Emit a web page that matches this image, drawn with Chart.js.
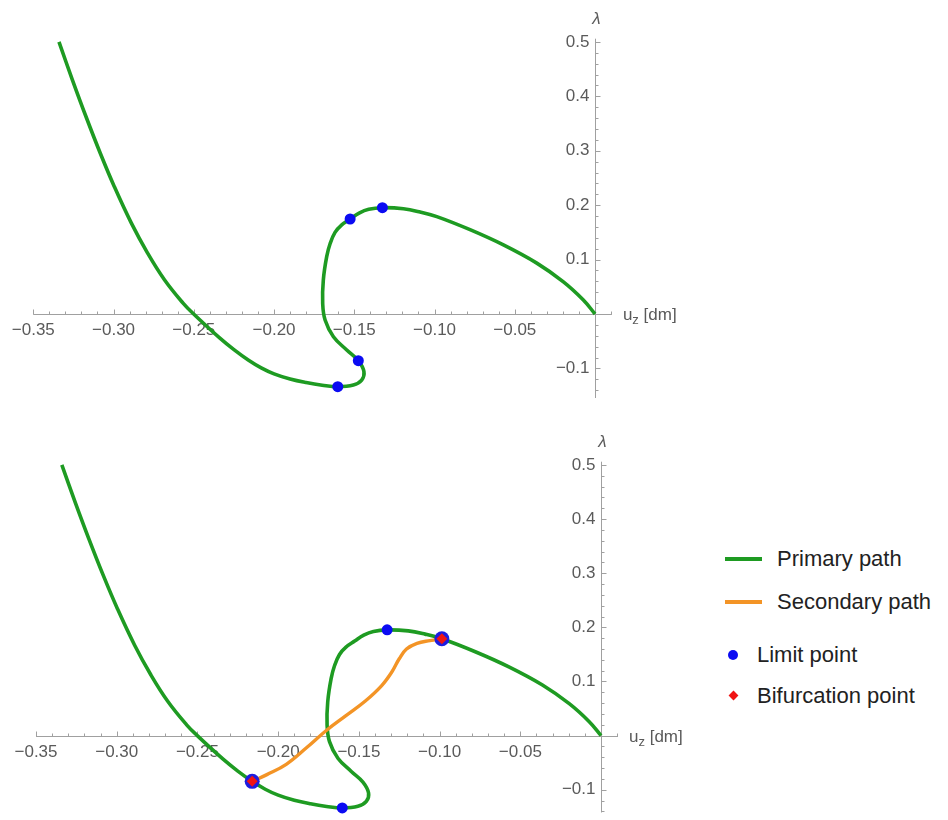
<!DOCTYPE html>
<html>
<head>
<meta charset="utf-8">
<script src="https://cdn.jsdelivr.net/npm/chart.js@4.4.1/dist/chart.umd.min.js"></script>
<style>
  body { margin: 0; background: #fff; width: 948px; height: 820px; position: relative; overflow: hidden;
         font-family: Arial, "Liberation Sans", sans-serif; }
  canvas { position: absolute; left: 0; }
  #graficoSuperior { top: 0; }
  #graficoInferior { top: 410px; }
  .item-legenda { position: absolute; font-size: 22px; color: #222; line-height: 22px; white-space: nowrap; transform: translateY(-50%); }
  .simbolo { position: absolute; }
</style>
</head>
<body>
<canvas id="graficoSuperior" width="700" height="410"></canvas>
<canvas id="graficoInferior" width="700" height="410"></canvas>
<div id="legenda"></div>

<script>
// Caminho primário (u_z, λ)
const caminhoPrimario = [
    [-0.3340, 0.500], [-0.3256, 0.430], [-0.3172, 0.363], [-0.3082, 0.295],
    [-0.2995, 0.234], [-0.2889, 0.167], [-0.2788, 0.112], [-0.2683, 0.063],
    [-0.2567, 0.020], [-0.2501, 0.000], [-0.2341, -0.0435], [-0.2250, -0.0655],
    [-0.2161, -0.0845], [-0.2080, -0.0990], [-0.2000, -0.1100], [-0.1900, -0.1195],
    [-0.1800, -0.1260], [-0.1700, -0.1308], [-0.1603, -0.1336], [-0.1506, -0.1305],
    [-0.1454, -0.1215], [-0.1440, -0.1060], [-0.1475, -0.0858], [-0.1547, -0.0662],
    [-0.1630, -0.0417], [-0.1682, -0.0110], [-0.1697, 0.0200], [-0.1693, 0.0625],
    [-0.1672, 0.1054], [-0.1650, 0.1300], [-0.1620, 0.1500], [-0.1580, 0.1635],
    [-0.1526, 0.1746], [-0.1470, 0.1855], [-0.1410, 0.1925], [-0.1325, 0.1954],
    [-0.1194, 0.1935], [-0.1090, 0.1875], [-0.0986, 0.1790], [-0.0779, 0.1550],
    [-0.0571, 0.1270], [-0.0363, 0.0935], [-0.0197, 0.0590], [-0.0073, 0.0257],
    [0.0000, 0.0000]
];

// Caminho secundário, entre os dois pontos de bifurcação
const caminhoSecundario = [
    [-0.2161, -0.0845], [-0.2070, -0.072], [-0.1950, -0.053], [-0.1823, -0.022],
    [-0.1700, 0.010], [-0.1580, 0.037], [-0.1460, 0.064], [-0.1360, 0.092],
    [-0.1295, 0.118], [-0.1250, 0.142], [-0.1205, 0.160], [-0.1140, 0.1705],
    [-0.1060, 0.1755], [-0.0986, 0.179]
];

const pontosLimiteSuperior = [[-0.1603, -0.1336], [-0.1475, -0.0858], [-0.1526, 0.1746], [-0.1325, 0.1954]];
const pontosLimiteInferior = [[-0.1603, -0.1336], [-0.1325, 0.1954]];
const pontosBifurcacao = [[-0.2161, -0.0845], [-0.0986, 0.179]];

// Marcas dos eixos
const ticksX = [-0.35, -0.30, -0.25, -0.20, -0.15, -0.10, -0.05];
const ticksY = [-0.1, 0.1, 0.2, 0.3, 0.4, 0.5];

const VERDE = '#1e9b22';
const LARANJA = '#f39426';
const AZUL = '#0b0bf2';
const VERMELHO = '#f01414';
const CINZA_TEXTO = '#5a5a5a';

Chart.defaults.font.family = 'Arial, "Liberation Sans", sans-serif';

function paraXY(lista) {
    return lista.map(([x, y]) => ({ x, y }));
}

function formatar(v, casas) {
    const s = Math.abs(v).toFixed(casas);
    return v < 0 ? '\u2212' + s : s;
}

// Plugin que desenha os eixos cruzando na origem (estilo Mathematica)
const eixosNaOrigem = {
    id: 'eixosNaOrigem',
    beforeDatasetsDraw(chart) {
        const { ctx, scales: { x, y } } = chart;
        const x0 = Math.round(x.getPixelForValue(0)) + 0.5;
        const y0 = Math.round(y.getPixelForValue(0)) + 0.5;
        ctx.save();
        ctx.strokeStyle = '#a0a0a0';
        ctx.lineWidth = 1;
        ctx.beginPath();
        ctx.moveTo(x.left, y0); ctx.lineTo(x.right, y0);
        ctx.moveTo(x0, y.top); ctx.lineTo(x0, y.bottom);

        // marcas menores a cada 0.01 em x e 0.02 em y
        for (let k = -35; k <= 1; k++) {
            if (k === 0) continue;
            const px = Math.round(x.getPixelForValue(k / 100)) + 0.5;
            const len = k % 5 === 0 ? 5 : 3;
            ctx.moveTo(px, y0); ctx.lineTo(px, y0 - len);
        }
        for (let k = -7; k <= 25; k++) {
            if (k === 0) continue;
            const v = k * 0.02;
            if (v < y.min || v > y.max) continue;
            const py = Math.round(y.getPixelForValue(v)) + 0.5;
            const len = k % 5 === 0 ? 5 : 3;
            ctx.moveTo(x0, py); ctx.lineTo(x0 + len, py);
        }
        ctx.stroke();

        // rótulos das marcas
        ctx.fillStyle = CINZA_TEXTO;
        ctx.font = '17px Arial, "Liberation Sans", sans-serif';
        ctx.textAlign = 'center';
        ctx.textBaseline = 'middle';
        ticksX.forEach(v => ctx.fillText(formatar(v, 2), x.getPixelForValue(v), y0 + 16));
        ctx.textAlign = 'right';
        ticksY.forEach(v => {
            if (v < y.min) return;
            ctx.fillText(formatar(v, 1), x0 - 6, y.getPixelForValue(v));
        });

        // nomes dos eixos: u_z [dm] e λ
        ctx.textAlign = 'left';
        ctx.textBaseline = 'alphabetic';
        let px = x.right + 11;
        ctx.font = '17px Arial, "Liberation Sans", sans-serif';
        ctx.fillText('u', px, y0 + 5);
        px += ctx.measureText('u').width;
        ctx.font = '13px Arial, "Liberation Sans", sans-serif';
        ctx.fillText('z', px, y0 + 9);
        px += ctx.measureText('z').width;
        ctx.font = '17px Arial, "Liberation Sans", sans-serif';
        ctx.fillText(' [dm]', px, y0 + 5);

        ctx.font = 'italic 17px Arial, "Liberation Sans", sans-serif';
        ctx.textAlign = 'center';
        ctx.textBaseline = 'middle';
        ctx.fillText('\u03bb', x0 + 1, y.top - 19);
        ctx.restore();
    }
};

function datasetLinha(label, dados, cor, largura, ordem) {
    return {
        label, data: paraXY(dados), showLine: true, borderColor: cor, borderWidth: largura,
        pointRadius: 0, tension: 0.4, fill: false, order: ordem, clip: false
    };
}

function datasetPontos(label, dados, cor, raio, estilo, ordem) {
    return {
        label, data: paraXY(dados), showLine: false, backgroundColor: cor, borderColor: cor,
        borderWidth: 0, pointRadius: raio, pointStyle: estilo, order: ordem, clip: false
    };
}

// Função para criar um gráfico com a área do gráfico posicionada por padding
function criarGrafico(id, datasets, limites, padding) {
    const ctx = document.getElementById(id).getContext('2d');
    return new Chart(ctx, {
        type: 'scatter',
        data: { datasets },
        options: {
            responsive: false,
            animation: false,
            devicePixelRatio: 1,
            layout: { padding },
            plugins: { legend: { display: false }, tooltip: { enabled: false } },
            scales: {
                x: { type: 'linear', min: limites.xMin, max: limites.xMax, display: false },
                y: { type: 'linear', min: limites.yMin, max: limites.yMax, display: false }
            }
        },
        plugins: [eixosNaOrigem]
    });
}

// Gráfico de cima: só o caminho primário com os pontos limite
criarGrafico('graficoSuperior', [
    datasetPontos('Limit point', pontosLimiteSuperior, AZUL, 5.5, 'circle', 0),
    datasetLinha('Primary path', caminhoPrimario, VERDE, 3.6, 5)
], { xMin: -0.35, xMax: 0.0105, yMin: -0.1544, yMax: 0.506 },
   { left: 33.3, right: 700 - 611.9, top: 38.7, bottom: 12 });

// Gráfico de baixo: caminhos primário e secundário com bifurcações
const graficoInferior = criarGrafico('graficoInferior', [
    datasetPontos('Bifurcation point', pontosBifurcacao, VERMELHO, 5.5, 'rectRot', 0),
    datasetPontos('', pontosBifurcacao, '#1d1de0', 7.5, 'circle', 1),
    datasetPontos('Limit point', pontosLimiteInferior, AZUL, 5.5, 'circle', 2),
    datasetLinha('Secondary path', caminhoSecundario, LARANJA, 3.4, 4),
    datasetLinha('Primary path', caminhoPrimario, VERDE, 3.6, 5)
], { xMin: -0.35, xMax: 0.0105, yMin: -0.142, yMax: 0.506 },
   { left: 36, right: 700 - 618, top: 51.7, bottom: 0 });

// Legenda em HTML ao lado do gráfico de baixo
function gerarLegenda(chart) {
    const legenda = document.getElementById('legenda');
    const ordem = ['Primary path', 'Secondary path', 'Limit point', 'Bifurcation point'];
    const centrosY = [559, 601.5, 655, 695.5];
    ordem.forEach((nome, i) => {
        const ds = chart.data.datasets.find(d => d.label === nome);
        const cy = centrosY[i];
        const simbolo = document.createElement('div');
        simbolo.className = 'simbolo';
        let textoX;
        if (ds.showLine) {
            Object.assign(simbolo.style, { left: '725px', top: (cy - 2) + 'px', width: '37px', height: '4px', background: ds.borderColor });
            textoX = 777;
        } else if (ds.pointStyle === 'circle') {
            Object.assign(simbolo.style, { left: '728px', top: (cy - 5) + 'px', width: '10px', height: '10px', borderRadius: '50%', background: ds.backgroundColor });
            textoX = 757;
        } else {
            Object.assign(simbolo.style, { left: '730px', top: (cy - 3.5) + 'px', width: '7px', height: '7px', transform: 'rotate(45deg)', background: ds.backgroundColor });
            textoX = 757;
        }
        legenda.appendChild(simbolo);
        const texto = document.createElement('div');
        texto.className = 'item-legenda';
        texto.style.left = textoX + 'px';
        texto.style.top = cy + 'px';
        texto.textContent = nome;
        legenda.appendChild(texto);
    });
}

gerarLegenda(graficoInferior);
</script>
</body>
</html>
